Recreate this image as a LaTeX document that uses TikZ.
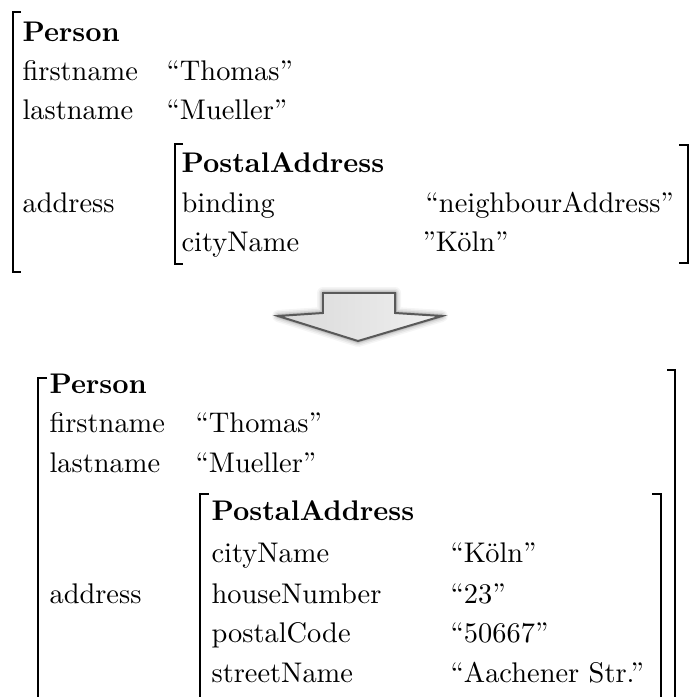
\documentclass[tikz,border=0pt]{standalone}
\begin{document}
\begin{tikzpicture}[x=0.352pt,y=-0.352pt,
  lbl/.style={anchor=base west, inner sep=0pt, font=\fontsize{10}{12}\selectfont},
  hdr/.style={anchor=base west, inner sep=0pt, font=\fontsize{10}{12}\selectfont\bfseries},
  brk/.style={line width=0.72pt, line cap=butt, line join=miter},
  arrowshape/.style={insert path={(323,293) -- (395,293) -- (395,313) -- (442,316) -- (358,341) -- (278,316) -- (323,313) -- cycle}}]
\useasboundingbox (0,0) rectangle (691,697);

% ---------- top feature structure ----------
\node[hdr] (p1)  at (22,42)  {Person};
\node[lbl] (fn1) at (22,81)  {firstname};
\node[lbl] (fv1) at (166,81) {“Thomas”};
\node[lbl] (ln1) at (22,119) {lastname};
\node[lbl] (lv1) at (166,119) {“Mueller”};
\node[lbl] (ad1) at (22,212) {address};
\node[hdr] (pa1) at (181,173) {PostalAddress};
\node[lbl] (bi1) at (181,212) {binding};
\node[lbl] (bv1) at (425,212) {“neighbourAddress”};
\node[lbl] (cn1) at (181,251) {cityName};
\node[lbl] (cv1) at (422,251) {”Köln”};

\draw[brk] (21,12) -- (13,12) -- (13,272) -- (21,272);
\draw[brk] (183,144) -- (175,144) -- (175,264) -- (183,264);
\draw[brk] (679,145) -- (688,145) -- (688,263) -- (679,263);

% ---------- arrow ----------
\foreach \w/\o in {12/0.04, 9/0.06, 6/0.08, 3.5/0.12}
  \draw[black, opacity=\o, line width=\w*0.352pt, line join=round, arrowshape];
\shade[left color=gray!30, right color=gray!12, arrowshape];
\draw[gray!70!black, line width=0.7pt, line join=miter, arrowshape];

% ---------- bottom feature structure ----------
\node[hdr] (p2)  at (49,393)  {Person};
\node[lbl] (fn2) at (49,432)  {firstname};
\node[lbl] (fv2) at (195,432) {“Thomas”};
\node[lbl] (ln2) at (49,472)  {lastname};
\node[lbl] (lv2) at (195,472) {“Mueller”};
\node[lbl] (ad2) at (49,603)  {address};
\node[hdr] (pa2) at (211,520) {PostalAddress};
\node[lbl] (cn2) at (211,562) {cityName};
\node[lbl] (cv2) at (450,562) {“Köln”};
\node[lbl] (hn2) at (211,603) {houseNumber};
\node[lbl] (hv2) at (450,603) {“23”};
\node[lbl] (pc2) at (211,642) {postalCode};
\node[lbl] (pv2) at (450,642) {“50667”};
\node[lbl] (sn2) at (211,682) {streetName};
\node[lbl] (sv2) at (450,682) {“Aachener Str.”};

\draw[brk] (47,378) -- (38,378) -- (38,698);
\draw[brk] (209,494) -- (200,494) -- (200,698);
\draw[brk] (652,494) -- (661,494) -- (661,698);
\draw[brk] (667,370) -- (675,370) -- (675,698);
\end{tikzpicture}
\end{document}
